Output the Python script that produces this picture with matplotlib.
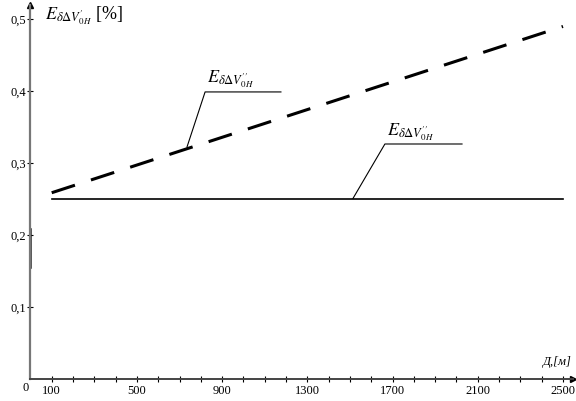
import numpy as np
import matplotlib as mpl
mpl.use("Agg")
import matplotlib.pyplot as plt

plt.rcParams["font.family"] = ["Liberation Serif", "DejaVu Serif"]
plt.rcParams["mathtext.fontset"] = "stix"

# data
dist = [100, 2500]
err_dashed = [0.258, 0.489]     # E for V'' (dashed, growing)
err_solid = [0.25, 0.25]        # E for V'' (solid, constant)
xticks_major = [100, 500, 900, 1300, 1700, 2100, 2500]
xticks_minor = list(range(100, 2600, 100))
yticks = [0.1, 0.2, 0.3, 0.4, 0.5]
ytick_labels = ["0,1", "0,2", "0,3", "0,4", "0,5"]

W, H = 576, 402
fig = plt.figure(figsize=(W / 100, H / 100), dpi=100)
x0, y0 = 30.4, 379.5            # pixel position of origin
px_x = 511.3 / 2400             # pixels per metre
px_y = 720.0                    # pixels per unit
xmax = (573 - x0) / px_x
ymax = (y0 - 6) / px_y
ax = fig.add_axes([x0 / W, (H - y0) / H, (573 - x0) / W, (y0 - 6) / H])
ax.set_xlim(0, xmax)
ax.set_ylim(0, ymax)

for s in ["top", "right"]:
    ax.spines[s].set_visible(False)
ax.spines["left"].set_color("#777777")
ax.spines["left"].set_linewidth(1.6)
ax.spines["bottom"].set_color("#444444")
ax.spines["bottom"].set_linewidth(1.4)
# arrows
ax.plot(1, 0, ">", color="black", ms=4, transform=ax.transAxes, clip_on=False)
ax.plot(0, 1, "^", color="black", ms=4, transform=ax.transAxes, clip_on=False)
# darker piece of the y axis (as in the scan)
ax.plot([0, 0], [0.155, 0.208], color="#222222", lw=1.8, clip_on=False)

ax.plot(dist, err_dashed, color="black", lw=2.2, dashes=(8, 5.5))
ax.plot(dist, err_solid, color="black", lw=1.2)

# ticks
ax.set_xticks(xticks_major)
ax.set_xticks(xticks_minor, minor=True)
ax.set_yticks(yticks)
ax.set_yticklabels(ytick_labels)
ax.tick_params(axis="both", which="both", direction="inout", length=4,
               width=0.8, labelsize=9, color="black")
ax.tick_params(axis="x", pad=2)
ax.tick_params(axis="y", pad=1)
ax.text(-10, -0.003, "0", ha="right", va="top", fontsize=9)

# axis labels
ax.text(2540, 0.016, "Д,[м]", ha="right", va="bottom", fontsize=9,
        style="italic")
ax.text(68, 0.506, r"$E_{\delta\mathit{\Delta} V^{\prime}_{0H}}$ [%]",
        ha="left", va="center", fontsize=13)

# leader lines and curve labels
ax.plot([735, 820, 1176], [0.3215, 0.398, 0.398], color="black", lw=0.8)
ax.text(829, 0.402, r"$E_{\delta\mathit{\Delta} V^{\prime\prime}_{0H}}$",
        ha="left", va="bottom", fontsize=13)
ax.plot([1514, 1664, 2026], [0.25, 0.3257, 0.3257], color="black", lw=0.8)
ax.text(1674, 0.329, r"$E_{\delta\mathit{\Delta} V^{\prime\prime}_{0H}}$",
        ha="left", va="bottom", fontsize=13)

fig.savefig("out.png", dpi=100)
